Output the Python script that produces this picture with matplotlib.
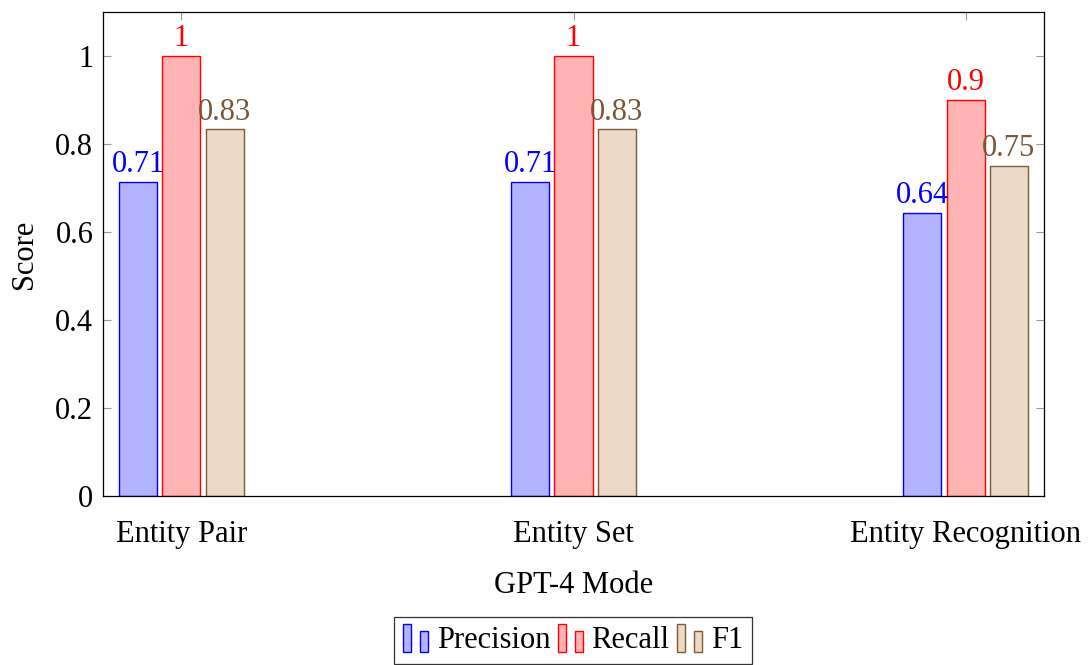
import matplotlib
matplotlib.use("Agg")
import matplotlib.pyplot as plt
from matplotlib.patches import Rectangle
from matplotlib.legend_handler import HandlerBase
import numpy as np

categories = ["Entity Pair", "Entity Set", "Entity Recognition"]
series_names = ["Precision", "Recall", "F1"]
precision = [0.714, 0.714, 0.643]
recall = [1.0, 1.0, 0.9]
f1 = [0.833, 0.833, 0.75]
labels_precision = ["0.71", "0.71", "0.64"]
labels_recall = ["1", "1", "0.9"]
labels_f1 = ["0.83", "0.83", "0.75"]

face_colors = ["#b3b3ff", "#ffb3b3", "#ead9c6"]
edge_colors = ["#0000ff", "#ff0000", "#7f5a35"]
text_colors = ["#0000ff", "#ff0000", "#7a5634"]

plt.rcParams['font.family'] = ['Liberation Serif', 'DejaVu Serif']

FS = 22

fig = plt.figure(figsize=(10.91, 6.65), dpi=100)
ax = fig.add_axes([103/1091, 1 - 496/665, (1044-103)/1091, (496-12)/665])

x = np.arange(len(categories))
width = 0.097
offsets = [-0.11, 0.0, 0.11]
series = [precision, recall, f1]
lbls = [labels_precision, labels_recall, labels_f1]

handles = []
for vals, off, fc, ec, tc, lb, name in zip(series, offsets, face_colors, edge_colors, text_colors, lbls, series_names):
    bars = ax.bar(x + off, vals, width, color=fc, edgecolor=ec, linewidth=1.0, label=name, zorder=2)
    handles.append(bars)
    for xi, v, t in zip(x + off, vals, lb):
        ax.annotate(t, (xi, v), xytext=(0, 2), textcoords="offset points",
                    ha="center", va="bottom", color=tc, fontsize=FS)

ax.set_xlim(-0.2, 2.2)
ax.set_ylim(0, 1.1)
ax.set_xticks(x)
ax.set_xticklabels(categories, fontsize=FS)
ax.set_yticks([0, 0.2, 0.4, 0.6, 0.8, 1.0])
ax.set_yticklabels(["0", "0.2", "0.4", "0.6", "0.8", "1"], fontsize=FS)
ax.tick_params(axis='both', direction='in', length=6, width=0.8, color='#999999',
               top=True, right=True)
ax.tick_params(axis='y', pad=7)
ax.tick_params(axis='x', pad=17)
ax.set_axisbelow(True)
for sp in ax.spines.values():
    sp.set_linewidth(0.9)
    sp.set_color('black')

ax.set_xlabel("GPT-4 Mode", fontsize=FS, labelpad=16)
ax.set_ylabel("Score", fontsize=FS, labelpad=12)


class HandlerTwoBars(HandlerBase):
    def create_artists(self, legend, orig_handle, xdescent, ydescent, width, height, fontsize, trans):
        p = orig_handle.patches[0]
        fc = p.get_facecolor()
        ec = p.get_edgecolor()
        bw = width * 0.3
        r1 = Rectangle((-xdescent, -ydescent - height * 0.2), bw, height * 1.35,
                       facecolor=fc, edgecolor=ec, linewidth=1.0, transform=trans)
        r2 = Rectangle((-xdescent + width * 0.62, -ydescent - height * 0.2), bw, height * 1.0,
                       facecolor=fc, edgecolor=ec, linewidth=1.0, transform=trans)
        return [r1, r2]


leg = fig.legend(handles, series_names, loc='upper center', bbox_to_anchor=(573/1091, 1 - 617/665),
                 ncol=3, fontsize=FS, frameon=True, fancybox=False, edgecolor='black',
                 handler_map={type(handles[0]): HandlerTwoBars()},
                 handlelength=0.9, handletextpad=0.2, columnspacing=0.25,
                 borderpad=0.3, borderaxespad=0)
leg.get_frame().set_linewidth(0.9)

fig.savefig("out.png", dpi=100)
